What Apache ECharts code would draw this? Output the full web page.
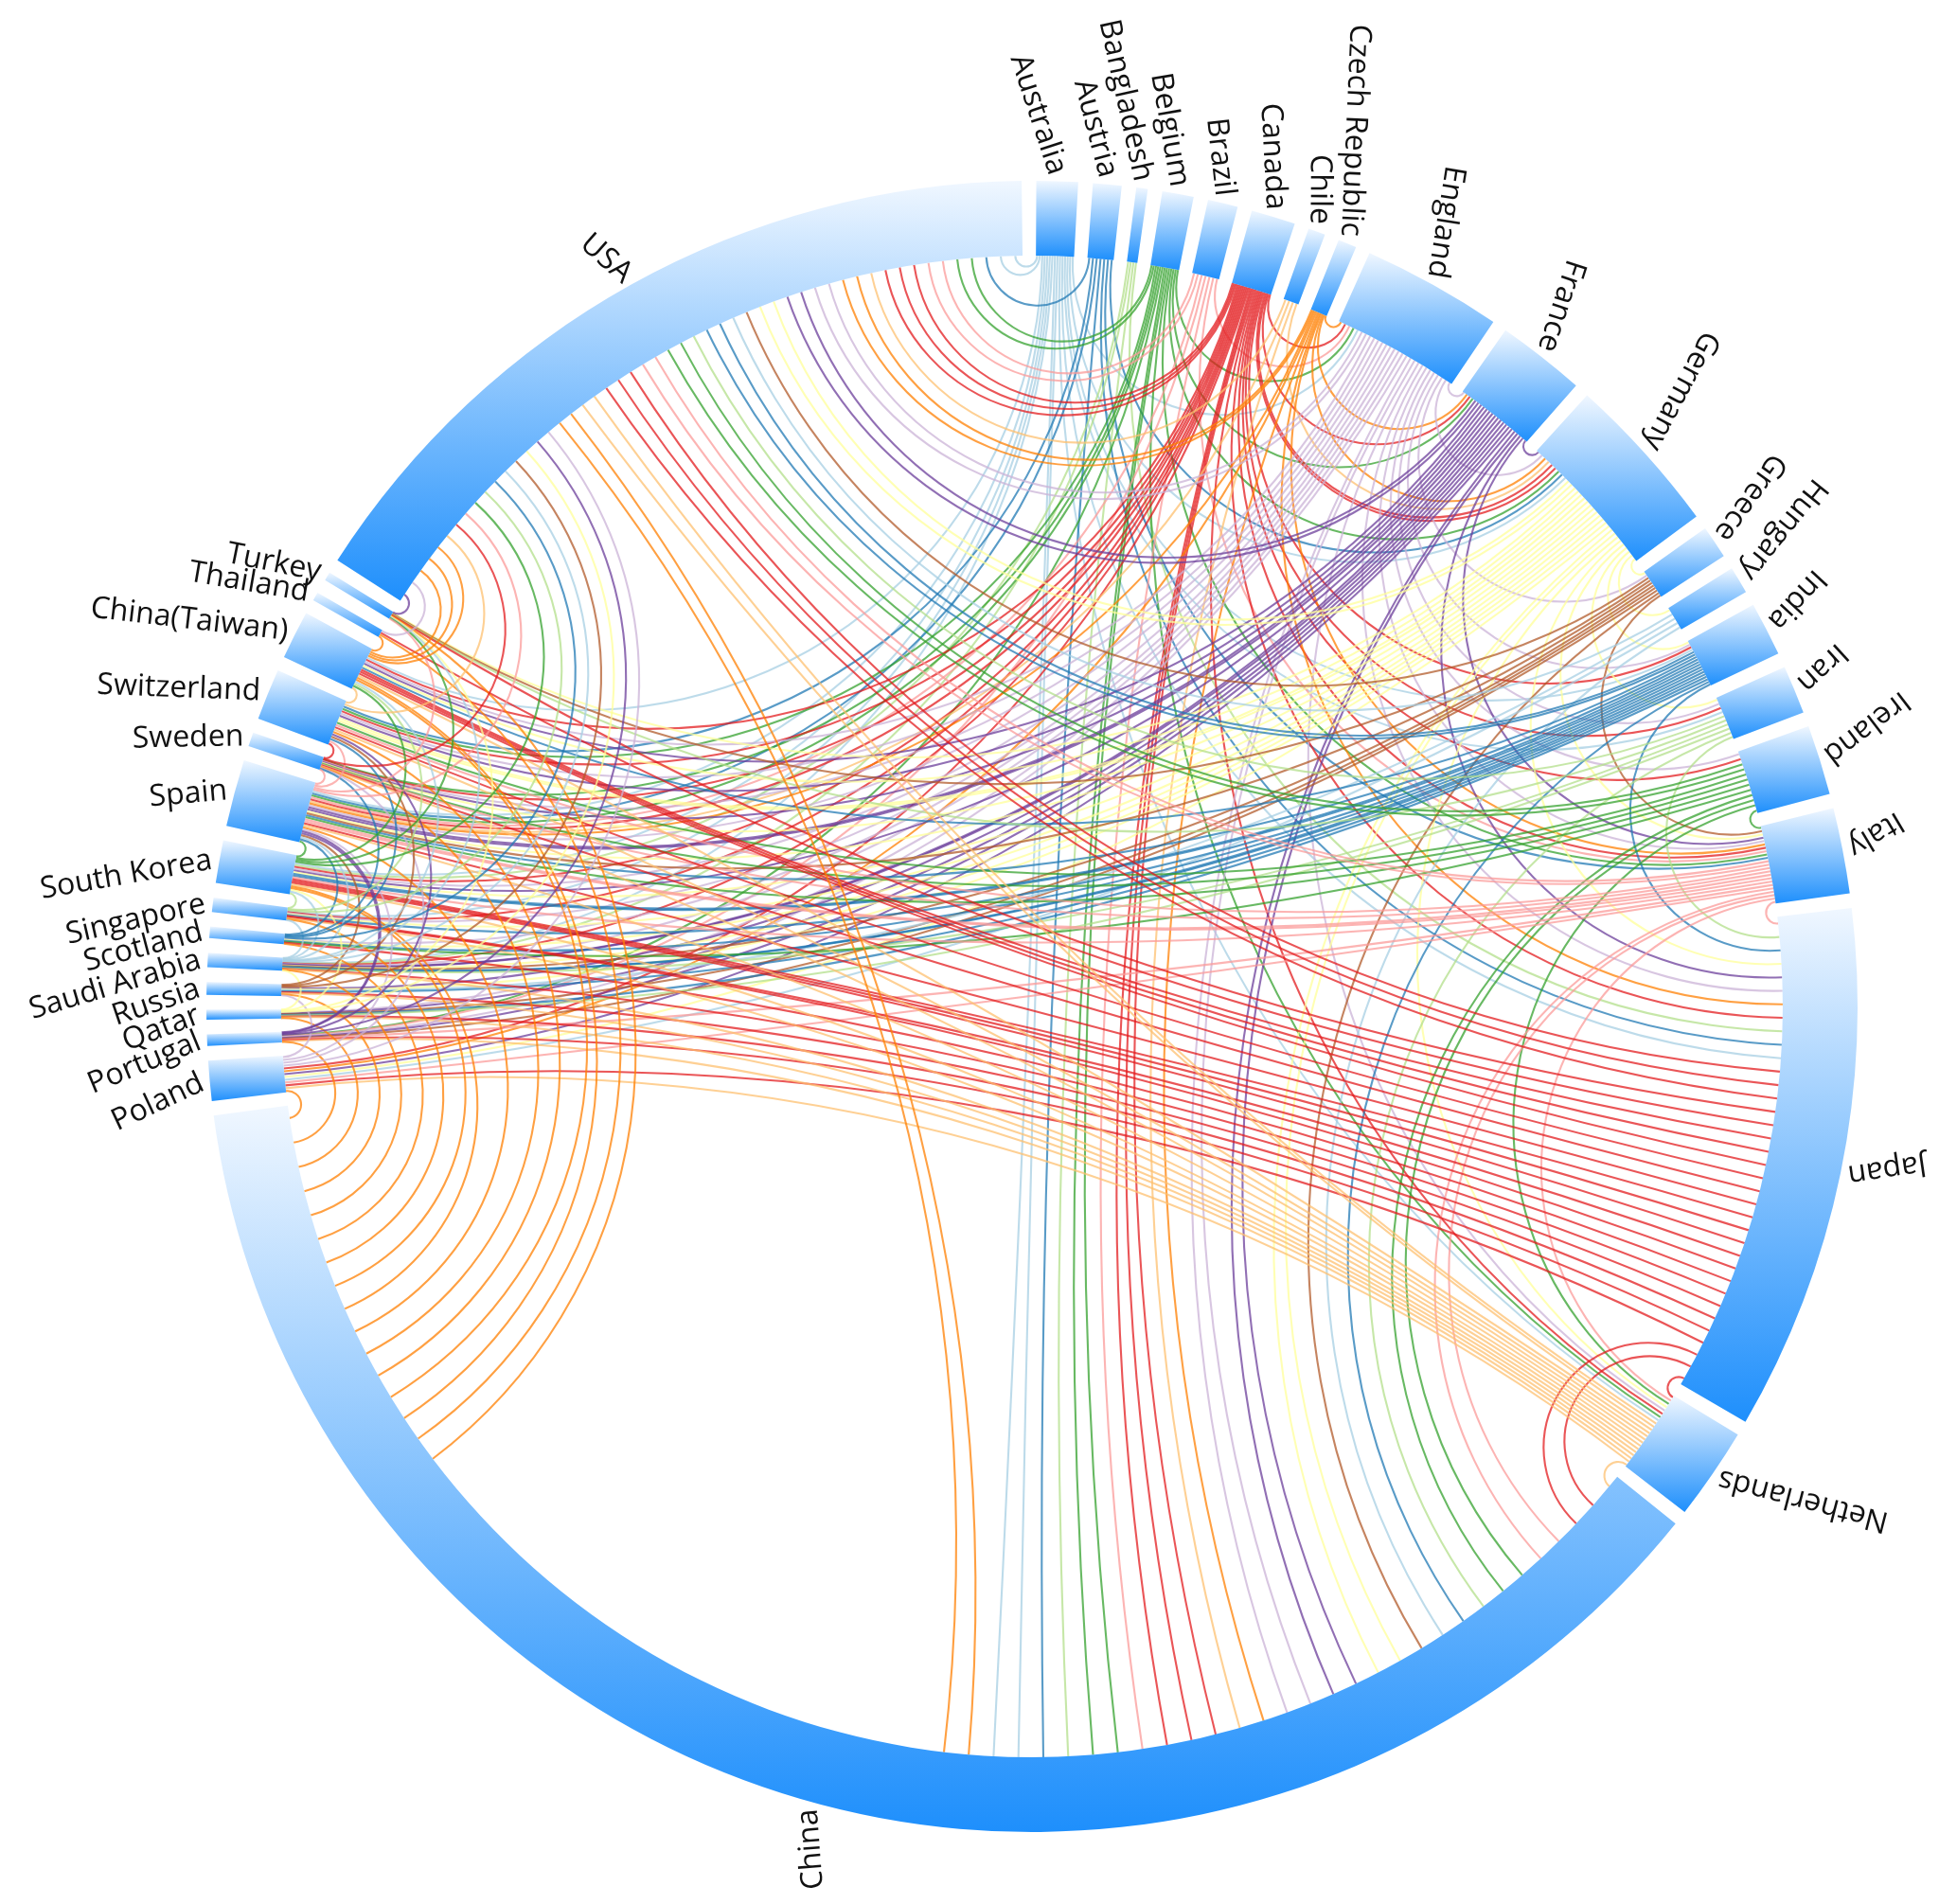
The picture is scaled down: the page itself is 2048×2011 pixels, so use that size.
<!DOCTYPE html>
<html><head><meta charset="utf-8">
<script src="https://cdn.jsdelivr.net/npm/echarts@6/dist/echarts.min.js"></script>
<style>html,body{margin:0;padding:0;background:#fff}#c{width:2048px;height:2011px}</style>
</head><body><div id="c"></div>
<script>
// ---------------- data ----------------
const countries = ['Australia','Austria','Bangladesh','Belgium','Brazil','Canada','Chile','Czech Republic','England','France','Germany','Greece','Hungary','India','Iran','Ireland','Italy','Japan','Netherlands','China','Poland','Portugal','Qatar','Russia','Saudi Arabia','Scotland','Singapore','South Korea','Spain','Sweden','Switzerland','China(Taiwan)','Thailand','Turkey','USA'];
// size of each country's arc
const arcValues = [29,20,8,22,21,31,12,13,98,62,113,23,19,38,34,49,60,369,65,1330,28,8,7,9,10,8,10,30,47,10,36,34,6,6,563];
// collaboration links: [country, country, number of lines]
const links = [
['Australia','USA',2],['Australia','China',2],['Australia','Japan',1],['Australia','England',1],['Australia','Germany',1],['Australia','India',1],['Australia','Iran',1],['Australia','Saudi Arabia',1],['Australia','Singapore',1],['Australia','South Korea',1],['Australia','China(Taiwan)',1],['Australia','Spain',1],['Australia','Netherlands',1],
['Austria','Germany',1],['Austria','Italy',1],['Austria','Japan',1],['Austria','China',1],['Austria','Spain',1],['Austria','Switzerland',1],['Austria','USA',1],
['Bangladesh','Japan',1],['Bangladesh','China',1],['Bangladesh','Saudi Arabia',1],['Bangladesh','South Korea',1],
['Belgium','France',1],['Belgium','Germany',1],['Belgium','Italy',1],['Belgium','Netherlands',1],['Belgium','China',2],['Belgium','Spain',1],['Belgium','Portugal',1],['Belgium','Sweden',1],['Belgium','Switzerland',1],['Belgium','USA',2],['Belgium','England',1],
['Brazil','England',1],['Brazil','Italy',1],['Brazil','China',1],['Brazil','Portugal',1],['Brazil','Spain',1],['Brazil','USA',2],
['Canada','England',1],['Canada','France',1],['Canada','Germany',2],['Canada','India',1],['Canada','Iran',1],['Canada','Ireland',1],['Canada','Italy',1],['Canada','Japan',1],['Canada','Netherlands',1],['Canada','China',3],['Canada','Poland',1],['Canada','Saudi Arabia',1],['Canada','Singapore',1],['Canada','South Korea',1],['Canada','Spain',1],['Canada','Sweden',1],['Canada','Switzerland',1],['Canada','China(Taiwan)',1],['Canada','USA',3],
['Chile','Spain',1],['Chile','China',1],['Chile','USA',1],['Chile','Germany',1],
['Czech Republic','England',1],['Czech Republic','France',1],['Czech Republic','Germany',1],['Czech Republic','Italy',1],['Czech Republic','Poland',1],['Czech Republic','Spain',1],['Czech Republic','China',1],['Czech Republic','Japan',1],['Czech Republic','USA',2],
['England','France',1],['England','Germany',1],['England','Greece',1],['England','India',1],['England','Iran',1],['England','Ireland',1],['England','Italy',1],['England','Japan',1],['England','Netherlands',1],['England','China',2],['England','Portugal',1],['England','Qatar',1],['England','Saudi Arabia',1],['England','Scotland',1],['England','Singapore',1],['England','South Korea',1],['England','Spain',1],['England','Sweden',1],['England','Switzerland',1],['England','China(Taiwan)',1],['England','USA',2],
['France','Germany',1],['France','Italy',1],['France','Japan',1],['France','China',2],['France','Poland',1],['France','Portugal',1],['France','Qatar',1],['France','Russia',1],['France','Saudi Arabia',2],['France','South Korea',1],['France','Spain',2],['France','Sweden',1],['France','Switzerland',1],['France','China(Taiwan)',1],['France','USA',2],
['Germany','Greece',1],['Germany','Hungary',1],['Germany','India',1],['Germany','Iran',1],['Germany','Italy',1],['Germany','Japan',1],['Germany','Netherlands',1],['Germany','China',2],['Germany','Poland',1],['Germany','Russia',1],['Germany','Saudi Arabia',1],['Germany','Scotland',1],['Germany','Singapore',1],['Germany','South Korea',1],['Germany','Spain',1],['Germany','Sweden',1],['Germany','Switzerland',2],['Germany','China(Taiwan)',1],['Germany','Turkey',1],['Germany','USA',2],
['Greece','Italy',1],['Greece','China',1],['Greece','Portugal',1],['Greece','Qatar',1],['Greece','Saudi Arabia',1],['Greece','Spain',1],['Greece','Turkey',1],['Greece','USA',1],
['Hungary','China',1],['Hungary','Poland',1],['Hungary','Russia',1],['Hungary','USA',1],
['India','Japan',1],['India','China',1],['India','Qatar',1],['India','Russia',1],['India','Saudi Arabia',2],['India','Scotland',1],['India','Singapore',1],['India','South Korea',2],['India','Spain',1],['India','China(Taiwan)',1],['India','USA',2],
['Iran','Japan',1],['Iran','China',1],['Iran','Qatar',1],['Iran','Saudi Arabia',1],['Iran','Turkey',1],['Iran','USA',1],
['Ireland','Italy',1],['Ireland','Netherlands',1],['Ireland','China',2],['Ireland','Scotland',1],['Ireland','Spain',1],['Ireland','Sweden',1],['Ireland','Switzerland',1],['Ireland','USA',2],
['Italy','Japan',1],['Italy','Netherlands',1],['Italy','China',2],['Italy','Poland',1],['Italy','Portugal',1],['Italy','Spain',2],['Italy','Sweden',1],['Italy','Switzerland',1],['Italy','South Korea',1],['Italy','USA',2],
['Japan','Netherlands',1],['Japan','China',2],['Japan','Poland',1],['Japan','Portugal',1],['Japan','Qatar',1],['Japan','Russia',1],['Japan','Saudi Arabia',1],['Japan','Scotland',1],['Japan','Singapore',2],['Japan','South Korea',3],['Japan','Spain',1],['Japan','Sweden',1],['Japan','Switzerland',1],['Japan','China(Taiwan)',3],['Japan','Thailand',1],['Japan','Turkey',1],['Japan','USA',3],
['Netherlands','China',1],['Netherlands','Poland',1],['Netherlands','Portugal',1],['Netherlands','Qatar',1],['Netherlands','Russia',1],['Netherlands','Saudi Arabia',1],['Netherlands','Singapore',1],['Netherlands','South Korea',1],['Netherlands','Spain',1],['Netherlands','Sweden',1],['Netherlands','Switzerland',1],['Netherlands','China(Taiwan)',1],['Netherlands','USA',2],
['China','Poland',1],['China','Portugal',1],['China','Qatar',1],['China','Russia',1],['China','Saudi Arabia',1],['China','Scotland',1],['China','Singapore',1],['China','South Korea',2],['China','Spain',1],['China','Sweden',1],['China','Switzerland',1],['China','China(Taiwan)',2],['China','Thailand',1],['China','Turkey',1],['China','USA',2],
['Poland','Russia',1],['Poland','Spain',1],['Poland','Sweden',1],['Poland','USA',1],
['Portugal','Spain',2],['Portugal','Switzerland',1],['Portugal','USA',1],
['Qatar','Saudi Arabia',1],['Qatar','South Korea',1],['Qatar','Turkey',1],['Qatar','USA',1],
['Russia','Spain',1],['Russia','Switzerland',1],['Russia','USA',1],
['Saudi Arabia','Singapore',1],['Saudi Arabia','South Korea',1],['Saudi Arabia','Spain',1],['Saudi Arabia','China(Taiwan)',1],['Saudi Arabia','Turkey',1],['Saudi Arabia','USA',1],
['Scotland','Spain',1],['Scotland','Sweden',1],['Scotland','Switzerland',1],['Scotland','USA',1],
['Singapore','South Korea',1],['Singapore','China(Taiwan)',1],['Singapore','USA',1],
['South Korea','Spain',1],['South Korea','China(Taiwan)',1],['South Korea','Turkey',1],['South Korea','USA',1],
['Spain','Sweden',1],['Spain','Switzerland',1],['Spain','Turkey',1],['Spain','USA',1],
['Sweden','Switzerland',1],['Sweden','USA',1],
['Switzerland','China(Taiwan)',1],['Switzerland','USA',1],
['China(Taiwan)','Thailand',1],['China(Taiwan)','USA',3],
['Thailand','USA',1],
['Turkey','USA',1]
];
const linkPalette = ['#a6cee3','#1f78b4','#b2df8a','#33a02c','#fb9a99','#e31a1c','#fdbf6f','#ff7f00','#cab2d6','#6a3d9a','#ffff99','#b15928'];

// ---------------- layout ----------------
const CX = 1090, CY = 1063, R_OUT = 872, R_IN = 793;
const GAP = 1.02, OFFSET = 0.3, MAXS = 1.9, LABEL_TWIST = 20;
const N = countries.length;
const idx = {}; countries.forEach((c, i) => idx[c] = i);
const total = arcValues.reduce((a, b) => a + b, 0);
const unit = (360 - N * GAP) / total;
const nodes = [];
let acc = OFFSET;
countries.forEach((c, i) => {
  const span = arcValues[i] * unit;
  nodes.push({ name: c, start: acc, end: acc + span, mid: acc + span / 2 });
  acc += span + GAP;
});

const lines = [];
links.forEach(([a, b, n]) => {
  const i = idx[a], j = idx[b];
  for (let m = 0; m < n; m++) lines.push({ i, j, m, n, theta: [0, 0] });
});
const ends = countries.map(() => []);
lines.forEach((L, li) => {
  ends[L.i].push({ li, other: L.j, m: L.m, side: 0 });
  ends[L.j].push({ li, other: L.i, m: L.n - 1 - L.m, side: 1 });
});
nodes.forEach((nd, i) => {
  const E = ends[i];
  E.forEach(e => e.d = ((nodes[e.other].mid - nd.mid) % 360 + 360) % 360);
  E.sort((p, q) => (q.d - p.d) || (p.m - q.m));
  const span = nd.end - nd.start, n = E.length;
  if (!n) return;
  let s = span / n, extra = 0, split = n;
  if (s > MAXS) {
    s = MAXS; extra = span - n * s;
    split = E.findIndex(e => e.d < 120); if (split < 0) split = n;
  }
  E.forEach((e, k) => {
    lines[e.li].theta[e.side] = nd.start + (k + 0.5) * s + (k >= split ? extra : 0);
  });
});

const rad = d => d * Math.PI / 180;
function toXY(theta, r) {
  const a = rad(theta - 90);
  return [CX + r * Math.cos(a), CY + r * Math.sin(a)];
}
function geodesic(t1, t2) {
  const a1 = rad(t1 - 90), a2 = rad(t2 - 90);
  const p1 = toXY(t1, R_IN), p2 = toXY(t2, R_IN);
  let D = a2 - a1;
  while (D > Math.PI) D -= 2 * Math.PI;
  while (D <= -Math.PI) D += 2 * Math.PI;
  const del = Math.abs(D) / 2;
  if (Math.PI / 2 - del < 0.003) {
    return { type: 'line', shape: { x1: p1[0], y1: p1[1], x2: p2[0], y2: p2[1] } };
  }
  const beta = a1 + D / 2;
  const dist = R_IN / Math.cos(del), rho = R_IN * Math.tan(del);
  const ox = CX + dist * Math.cos(beta), oy = CY + dist * Math.sin(beta);
  const f1 = Math.atan2(p1[1] - oy, p1[0] - ox), f2 = Math.atan2(p2[1] - oy, p2[0] - ox);
  let df = f2 - f1;
  while (df > Math.PI) df -= 2 * Math.PI;
  while (df <= -Math.PI) df += 2 * Math.PI;
  return { type: 'arc', shape: { cx: ox, cy: oy, r: rho, startAngle: f1, endAngle: f2, clockwise: df > 0 } };
}

const arcGradient = { type: 'linear', x: 0, y: 0, x2: 0, y2: 1,
  colorStops: [{ offset: 0, color: '#f0f7ff' }, { offset: 1, color: '#1e8ffc' }] };

const chart = echarts.init(document.getElementById('c'), null, { renderer: 'canvas' });
chart.setOption({
  backgroundColor: '#ffffff',
  animation: false,
  series: [
    {
      type: 'custom', coordinateSystem: 'none', silent: true, progressive: 0, z: 1,
      data: lines.map((_, k) => [k]),
      renderItem: function (params) {
        const L = lines[params.dataIndex];
        const el = geodesic(L.theta[0], L.theta[1]);
        el.style = { stroke: linkPalette[L.i % 12], lineWidth: 2.1, fill: 'none', opacity: 0.74 };
        return el;
      }
    },
    {
      type: 'custom', coordinateSystem: 'none', silent: true, progressive: 0, z: 2,
      data: nodes.map((_, k) => [k]),
      renderItem: function (params) {
        const nd = nodes[params.dataIndex];
        const th = rad(nd.mid);
        const lp = toXY(nd.mid, R_OUT + 8);
        const rot = Math.atan2(-Math.cos(th), -Math.sin(th)) + rad(LABEL_TWIST);
        return {
          type: 'group',
          children: [
            { type: 'sector',
              shape: { cx: CX, cy: CY, r0: R_IN, r: R_OUT, startAngle: rad(nd.start - 90), endAngle: rad(nd.end - 90), clockwise: true },
              style: { fill: arcGradient } },
            { type: 'text', x: lp[0], y: lp[1], rotation: rot,
              style: { text: nd.name, fill: '#111', fontSize: 32, fontFamily: '"Open Sans", "Noto Sans", sans-serif', align: 'right', verticalAlign: 'middle' } }
          ]
        };
      }
    }
  ]
});
</script>
</body></html>
